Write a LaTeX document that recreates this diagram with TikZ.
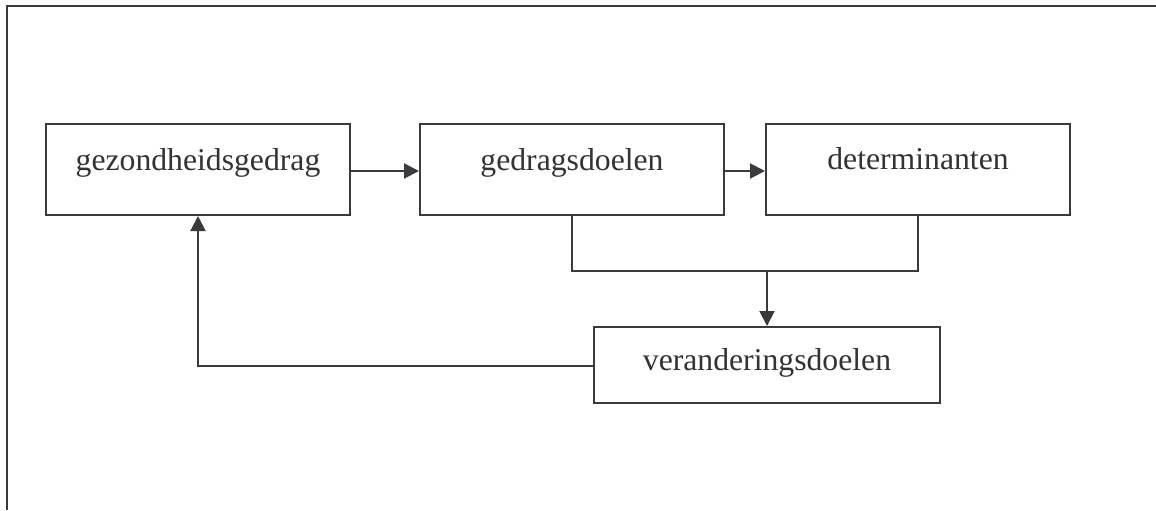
\documentclass[tikz,border=0pt]{standalone}
\usepackage{fontspec}
\setmainfont{Liberation Serif}
\usetikzlibrary{arrows.meta}
\definecolor{ink}{HTML}{3A3A3E}
\definecolor{txt}{HTML}{333333}
\begin{document}
\begin{tikzpicture}[x=0.5pt,y=-0.5pt,
  box/.style={draw=ink, line width=1pt, rectangle, inner sep=0pt, fill=white},
  lbl/.style={anchor=base, inner sep=0pt, text=txt, font=\fontsize{15.85pt}{18pt}\selectfont},
  conn/.style={draw=ink, line width=1pt},
  arr/.style={conn, -{Triangle[length=7.5pt,width=7.5pt]}},
  frame/.style={draw=ink, line width=1.1pt}]
\useasboundingbox (0,0) rectangle (1156,510);
\fill[white] (0,0) rectangle (1156,510);
% frame (only top and left visible)
\coordinate (ftr) at (1156,6);
\coordinate (ftl) at (7,6);
\coordinate (fbl) at (7,510);
\draw[frame] (ftr) -- (ftl) -- (fbl);
% boxes
\node[box, minimum width=152pt, minimum height=45.5pt] (gez) at (198,169.5) {};
\node[box, minimum width=152pt, minimum height=45.5pt] (ged) at (572,169.5) {};
\node[box, minimum width=152pt, minimum height=45.5pt] (det) at (918,169.5) {};
\node[box, minimum width=173pt, minimum height=38pt] (ver) at (767,365) {};
% labels
\node[lbl] (gezt) at (198,170) {gezondheidsgedrag};
\node[lbl] (gedt) at (572,170) {gedragsdoelen};
\node[lbl] (dett) at (918,169) {determinanten};
\node[lbl] (vert) at (767,370) {veranderingsdoelen};
% connectors
\draw[arr] (gez.east |- 0,171) -- (ged.west |- 0,171);
\draw[arr] (ged.east |- 0,171) -- (det.west |- 0,171);
\coordinate (bl) at (572,271);
\coordinate (br) at (918,271);
\coordinate (bm) at (767,271);
\draw[conn] (ged.south) -- (bl) -- (br) -- (det.south);
\draw[arr] (bm) -- (ver.north);
\coordinate (fb) at (198,366);
\draw[arr] (ver.west |- 0,366) -- (fb) -- (gez.south);
\end{tikzpicture}
\end{document}
